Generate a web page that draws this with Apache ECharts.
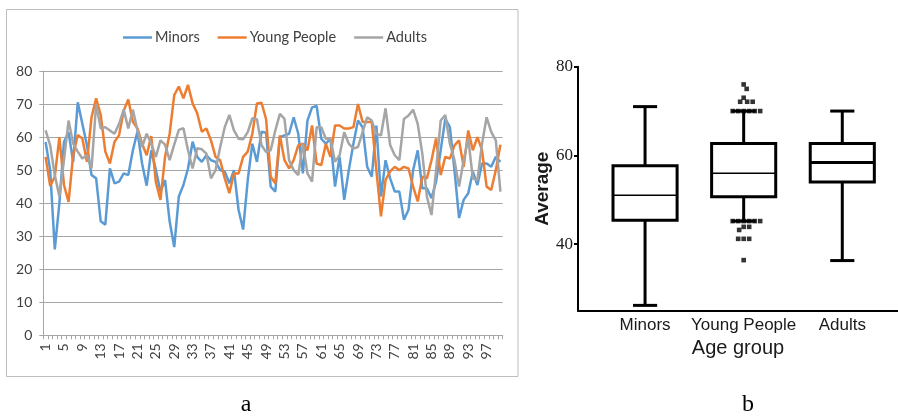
<!DOCTYPE html>
<html><head><meta charset="utf-8">
<script src="https://cdn.jsdelivr.net/npm/echarts@6/dist/echarts.min.js"></script>
<style>html,body{margin:0;padding:0;background:#fff}#c{width:898px;height:416px}</style>
</head><body><div id="c"></div>
<script>
// ---------- Panel a: line chart ----------
const seriesNames = ['Minors', 'Young People', 'Adults'];
const trialLabels = Array.from({length: 100}, (_, i) => String(i + 1));
const minors = [58.5,50,26,40,58.5,61.5,52.5,70.5,64,57.5,48.5,47.5,34.5,33.5,50.5,46,46.5,49,48.5,56,
  61.7,52,45.3,56,50,43.5,47,34.5,26.7,42,45.5,50.5,58.6,54,52.5,54.5,53,52.5,50,49.5,
  46,50,38,32,47,58,52.5,61.6,61.3,45,43.5,60,60.5,61,66,61,49,65,69,69.4,
  59.5,58,59.5,45,54,41,50,58,65,63,51,48,63.5,42,53,47.5,43.5,43.5,35,38,
  50,56,44.5,44.5,41.5,46.5,56,65.5,63,50,35.5,41,43,49.5,45.5,52,52,51,54,52.5];
const youngPeople = [54,45.2,48,60,45.5,40.4,54.5,60.6,59.6,52.5,66,71.7,66.7,55.6,52,58.6,60.6,68,71.4,64.6,
  62.6,58,54.5,60.3,46.4,41,54,61,72.7,75.3,71.7,75.8,70.2,67.2,61.6,62.6,59,54,53,47.5,
  43,49,49,54,55.6,61,70.2,70.4,65.4,48,46,60.5,53,50.5,53,57.5,58,56,63.5,52,
  51.5,58,54,63.5,63.5,62.6,62.6,63,70,64.6,64.6,64.6,50,36,47,49.6,51,50,51,50.5,
  45,40.5,48,47.5,53,59.6,48.5,54,53.5,57.5,59,51,62,56,60,56,45,44,50,57.7];
const adults = [62,57.5,48.5,42,53,65,58,55.6,53.5,54.5,50.5,70,62.6,63,62,61,64,68.3,62.6,68.3,
  62,57,61,58,54,59,57.7,53,57.7,62.2,62.7,56,50.5,56.6,56.3,55,47.5,50,57,63,
  66.7,62,59.5,59.3,61.5,65.7,65.4,57.5,55.5,56,62,67,65.5,53,50,48.5,58,49,46.5,63,
  63,59.5,59.5,52.5,54.5,61.5,58,56.5,57,61.5,66,65,61,60.5,68.7,57.6,54.5,53,65.5,66.5,
  68.3,64,55,42,36.4,50,65,66.7,58,53,45,53,59.6,47.5,47,58,66,61.6,59,43.5];

// ---------- Panel b: box plot ----------
const ageGroups = ['Minors', 'Young People', 'Adults'];
// [min, Q1, median, Q3, max]
const boxMinors = [26.2, 45.4, 51, 57.7, 71];
const boxYoung = [45.2, 50.7, 56, 62.7, 70];
const boxAdults = [36.3, 54, 58.4, 62.7, 70];
const youngOutliers = [76, 75, 73, 72.1, 72.1, 72.1, 70, 70, 70, 70, 70, 70,
  45.2, 45.2, 45.2, 45.2, 45.2, 45.2, 43.9, 43.9, 43.2, 41.2, 41.2, 41.2, 36.4];
const boxTicks = [40, 60, 80];

const medianWidths = [1.5, 1.5, 3];
const BOX_W = 0.65, CAP_W = 0.245;

const chart = echarts.init(document.getElementById('c'), null, {renderer: 'canvas'});
const sansA = 'Lato';
const txtA = '#404040';

const option = {
  animation: false,
  backgroundColor: '#fff',
  legend: {
    data: seriesNames, left: 118, top: 25, itemWidth: 29, itemHeight: 2.5, itemGap: 18, icon: 'rect',
    textStyle: {fontFamily: sansA, fontSize: 14.5, color: txtA, padding: [0, 0, 0, -2]}
  },
  grid: [
    {left: 43.3, top: 71, width: 459.4, height: 264.3},
    {left: 578, top: 66.7, width: 320, height: 244}
  ],
  xAxis: [
    {type: 'category', gridIndex: 0, data: trialLabels, boundaryGap: true,
      axisLine: {lineStyle: {color: '#a6a6a6', width: 1}},
      axisTick: {show: true, interval: 0, length: 4, lineStyle: {color: '#a6a6a6'}},
      axisLabel: {interval: 3, rotate: 90, margin: 8, fontFamily: sansA, fontSize: 14, color: txtA},
      splitLine: {show: false}},
    {type: 'value', gridIndex: 1, min: 0.32, max: 3.565,
      axisLine: {lineStyle: {color: '#000', width: 2}},
      axisTick: {show: false},
      axisLabel: {customValues: [1, 2, 3], formatter: v => ageGroups[Math.round(v) - 1],
        margin: 6, fontFamily: 'Liberation Sans', fontSize: 17, color: '#1a1a1a'},
      splitLine: {show: false},
      name: 'Age group', nameLocation: 'middle', nameGap: 28,
      nameTextStyle: {fontFamily: 'Liberation Sans', fontSize: 20, color: '#1a1a1a'}}
  ],
  yAxis: [
    {type: 'value', gridIndex: 0, min: 0, max: 80, interval: 10,
      axisLine: {show: true, lineStyle: {color: '#a6a6a6'}},
      axisTick: {show: true, length: 4, lineStyle: {color: '#a6a6a6'}},
      axisLabel: {margin: 11, fontFamily: sansA, fontSize: 14, color: txtA},
      splitLine: {lineStyle: {color: '#a6a6a6', width: 1}}},
    {type: 'value', gridIndex: 1, min: 25, max: 80,
      axisLine: {show: true, lineStyle: {color: '#000', width: 2}},
      axisTick: {show: true, customValues: boxTicks, length: 4, lineStyle: {color: '#000', width: 2}},
      axisLabel: {customValues: boxTicks, margin: 5, fontFamily: 'Liberation Serif', fontSize: 17, color: '#1a1a1a'},
      splitLine: {show: false},
      name: 'Average', nameLocation: 'middle', nameGap: 25,
      nameTextStyle: {fontFamily: 'Liberation Sans', fontWeight: 'bold', fontSize: 19, color: '#1a1a1a'}}
  ],
  series: [
    {name: 'Minors', type: 'line', data: minors, xAxisIndex: 0, yAxisIndex: 0, symbol: 'none',
      lineStyle: {width: 2.5, color: '#5b9bd5'}, itemStyle: {color: '#5b9bd5'}},
    {name: 'Young People', type: 'line', data: youngPeople, xAxisIndex: 0, yAxisIndex: 0, symbol: 'none',
      lineStyle: {width: 2.5, color: '#ed7d31'}, itemStyle: {color: '#ed7d31'}},
    {name: 'Adults', type: 'line', data: adults, xAxisIndex: 0, yAxisIndex: 0, symbol: 'none',
      lineStyle: {width: 2.5, color: '#a5a5a5'}, itemStyle: {color: '#a5a5a5'}},
    {type: 'custom', xAxisIndex: 1, yAxisIndex: 1, z: 3,
      data: [[1].concat(boxMinors), [2].concat(boxYoung), [3].concat(boxAdults)],
      encode: {x: 0, y: [1, 2, 3, 4, 5]},
      renderItem: function (params, api) {
        const x = api.value(0);
        const ys = [1, 2, 3, 4, 5].map(i => api.coord([x, api.value(i)])[1]);
        const cx = api.coord([x, api.value(1)])[0];
        const hw = api.size([BOX_W, 0])[0] / 2;
        const cw = api.size([CAP_W, 0])[0] / 2;
        const [pMin, pQ1, pMed, pQ3, pMax] = ys;
        const st = {stroke: '#000', lineWidth: 3};
        return {type: 'group', children: [
          {type: 'line', shape: {x1: cx, y1: pQ3, x2: cx, y2: pMax}, style: st},
          {type: 'line', shape: {x1: cx, y1: pQ1, x2: cx, y2: pMin}, style: st},
          {type: 'line', shape: {x1: cx - cw, y1: pMax, x2: cx + cw, y2: pMax}, style: st},
          {type: 'line', shape: {x1: cx - cw, y1: pMin, x2: cx + cw, y2: pMin}, style: st},
          {type: 'rect', shape: {x: cx - hw, y: pQ3, width: 2 * hw, height: pQ1 - pQ3},
            style: {fill: '#fff', stroke: '#000', lineWidth: 3}},
          {type: 'line', shape: {x1: cx - hw, y1: pMed, x2: cx + hw, y2: pMed},
            style: {stroke: '#000', lineWidth: medianWidths[params.dataIndex]}}
        ]};
      }},
    {type: 'scatter', xAxisIndex: 1, yAxisIndex: 1, z: 5, symbol: 'rect', symbolSize: 4.6,
      itemStyle: {color: '#000'}, data: youngOutliers.map(v => [2, v])}
  ],
  graphic: [
    {type: 'rect', shape: {x: 6.5, y: 9.5, width: 511.5, height: 367}, silent: true,
      style: {fill: 'none', stroke: '#bdbdbd', lineWidth: 1}, z: -1},
    {type: 'text', x: 246, y: 405, style: {text: 'a', font: '24px "Liberation Serif"', fill: '#000', align: 'center', verticalAlign: 'middle'}},
    {type: 'text', x: 748, y: 405, style: {text: 'b', font: '24px "Liberation Serif"', fill: '#000', align: 'center', verticalAlign: 'middle'}}
  ]
};
chart.setOption(option);

// beeswarm layout of outlier dots (pixel-based, avoids overlap)
const D = 5.2;
const placed = [];
const offsets = youngOutliers.map(v => {
  const py = chart.convertToPixel({yAxisIndex: 1}, v);
  let best = 0;
  for (let s = 0; s < 60; s++) {
    const cands = s === 0 ? [0] : [s * 0.5, -s * 0.5];
    let found = null;
    for (const dx of cands) {
      if (placed.every(p => (p[0] - dx) ** 2 + (p[1] - py) ** 2 >= D * D)) { found = dx; break; }
    }
    if (found !== null) { best = found; break; }
  }
  placed.push([best, py]);
  return best;
});
chart.setOption({series: [{}, {}, {}, {}, {
  data: youngOutliers.map((v, i) => ({value: [2, v], symbolOffset: [offsets[i], 0]}))
}]});
</script></body></html>
